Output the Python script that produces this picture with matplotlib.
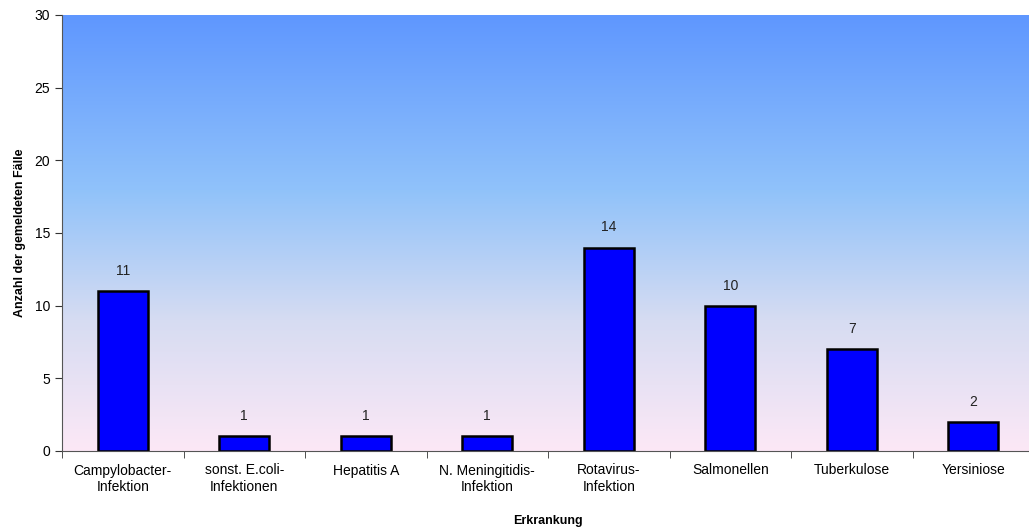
import numpy as np
import matplotlib
matplotlib.use("Agg")
import matplotlib.pyplot as plt
from matplotlib.colors import LinearSegmentedColormap

plt.rcParams['font.family'] = ['Liberation Sans', 'DejaVu Sans']

categories = ["Campylobacter-\nInfektion", "sonst. E.coli-\nInfektionen", "Hepatitis A",
              "N. Meningitidis-\nInfektion", "Rotavirus-\nInfektion", "Salmonellen",
              "Tuberkulose", "Yersiniose"]
cases = [11, 1, 1, 1, 14, 10, 7, 2]
y_ticks = [0, 5, 10, 15, 20, 25, 30]

fig = plt.figure(figsize=(10.29, 5.29), dpi=100)
# plot area runs a little past the right edge of the figure
ax = fig.add_axes([62 / 1029, 78 / 529, 972 / 1029, 436 / 529])

# background gradient: pink at the bottom, blue at the top
bg = LinearSegmentedColormap.from_list("bg", [
    (0.0, "#fce8f6"),
    (0.3, "#d6dcf2"),
    (0.6, "#90c2fa"),
    (1.0, "#5f97ff"),
])
grad = np.linspace(0, 1, 256).reshape(-1, 1)
ax.imshow(grad, cmap=bg, origin="lower", aspect="auto",
          extent=[-0.5, len(categories) - 0.5, 0, 30], zorder=0)

x = np.arange(len(categories))
ax.bar(x, cases, width=0.41, color="#0000ff", edgecolor="black", linewidth=1.8, zorder=2)
for xi, v in zip(x, cases):
    ax.text(xi, v + 0.9, str(v), ha="center", va="bottom", fontsize=10, color="#222222")

ax.set_xlim(-0.5, len(categories) - 0.5)
ax.set_ylim(0, 30)
ax.set_yticks(y_ticks)
ax.set_xticks(x)
ax.set_xticklabels(categories, fontsize=10)
ax.set_xticks(np.arange(len(categories) + 1) - 0.5, minor=True)
ax.tick_params(axis="x", which="major", length=0, pad=9)
ax.tick_params(axis="x", which="minor", length=5, direction="out", color="#333333")
ax.tick_params(axis="y", labelsize=10, length=5, color="#333333")

for side in ["top", "right"]:
    ax.spines[side].set_visible(False)
ax.spines["left"].set_color("#555555")
ax.spines["bottom"].set_color("#555555")

ax.set_xlabel("Erkrankung", fontsize=9, fontweight="bold", labelpad=15)
ax.set_ylabel("Anzahl der gemeldeten Fälle", fontsize=9, fontweight="bold", labelpad=6)

fig.savefig("out.png", dpi=100)
